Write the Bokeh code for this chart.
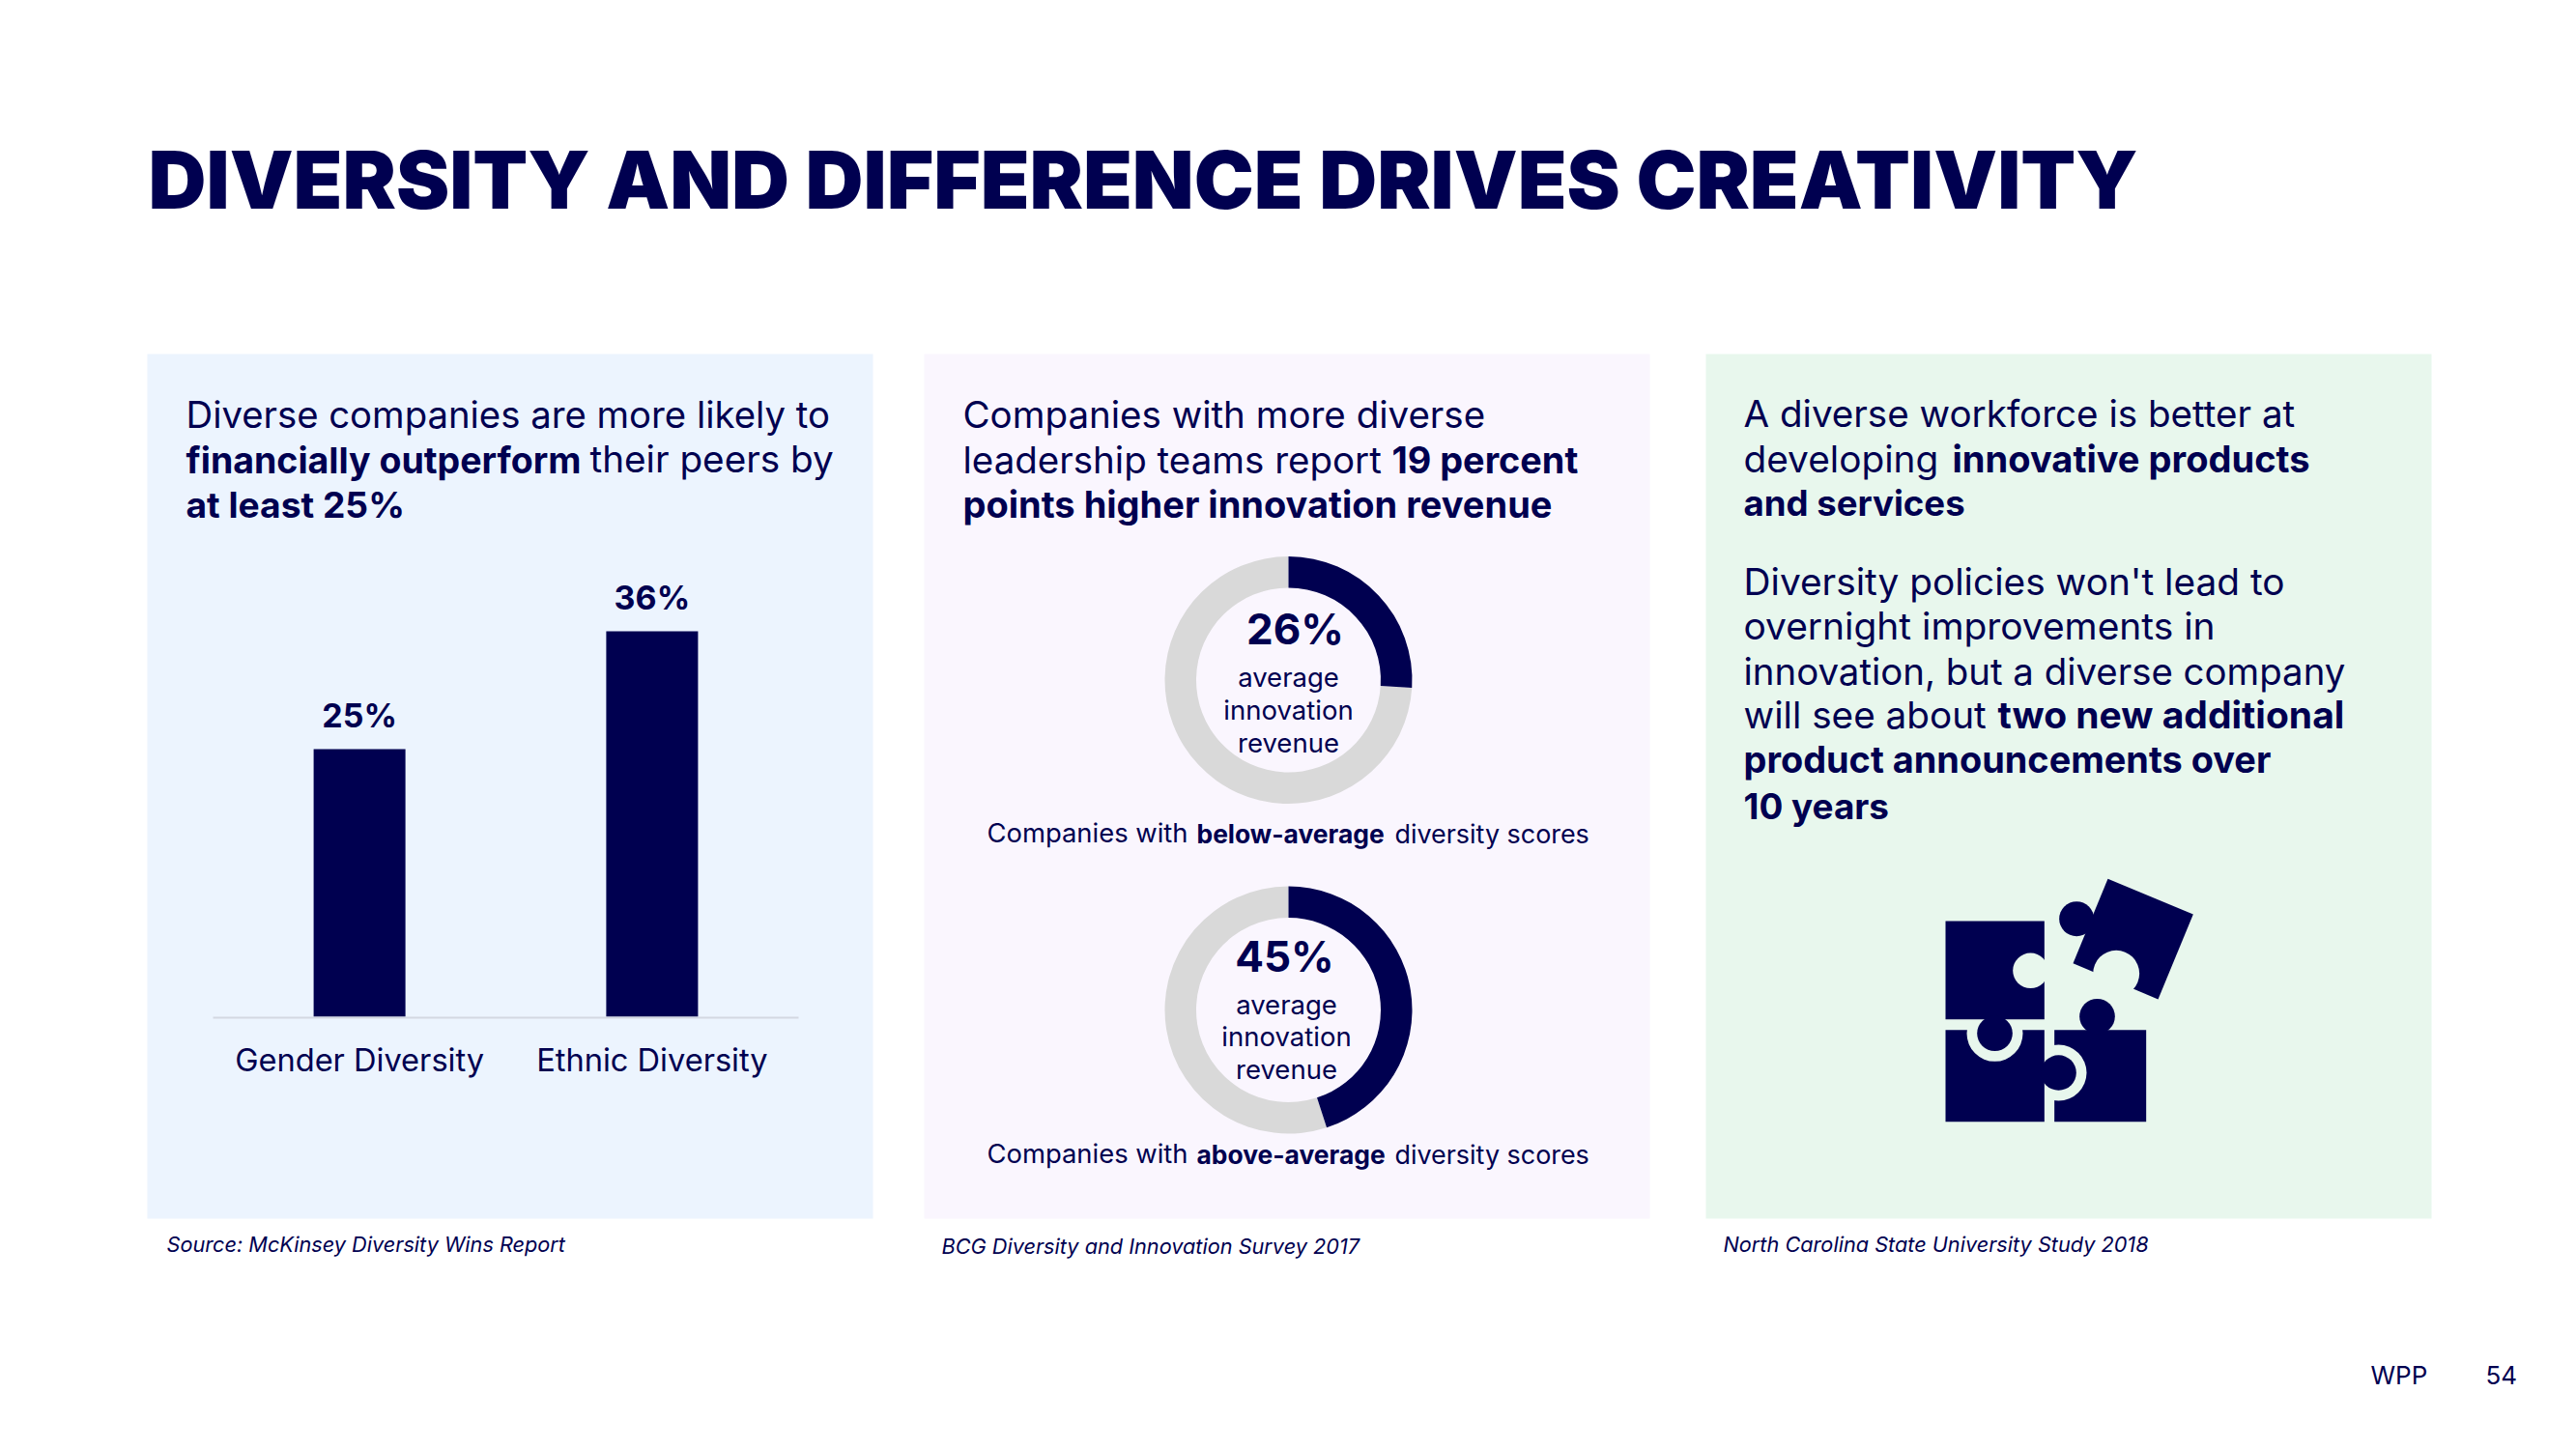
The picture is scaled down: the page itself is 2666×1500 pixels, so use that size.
from math import pi
from bokeh.plotting import figure
from bokeh.models import Range1d
from bokeh.core.properties import value
from bokeh.embed import file_html
from bokeh.resources import INLINE

# ---- chart data ----
title = "DIVERSITY AND DIFFERENCE DRIVES CREATIVITY"
bar_categories = ["Gender Diversity", "Ethnic Diversity"]
bar_values = [25, 36]
donut_values = [26, 45]
donut_captions = ["average", "innovation", "revenue"]

NAVY = "#000050"
GREY = "#D9D9D9"
BG1, BG2, BG3 = "#ECF4FE", "#FAF6FE", "#E8F7ED"
BODY = "Inter"
TITLE_FONT = "Inter Black"

W, H = 2650, 1484
p = figure(width=W, height=H, output_backend="svg", toolbar_location=None,
           x_range=Range1d(0, W), y_range=Range1d(1500 - H, 1500),
           min_border=0, min_border_left=0, min_border_right=0,
           min_border_top=0, min_border_bottom=0,
           x_axis_type=None, y_axis_type=None, outline_line_color=None,
           background_fill_color="white", border_fill_color="white")
p.grid.visible = False

def Y(px):
    return 1500 - px

def box(l, r, t, b, color):
    p.quad(left=[l], right=[r], top=[Y(t)], bottom=[Y(b)], fill_color=color, line_color=None)

box(152, 903, 366, 1261, BG1)
box(956, 1707, 366, 1261, BG2)
box(1765, 2516, 366, 1261, BG3)

def txt(x, y, s, size, bold=False, italic=False, align="left", font=BODY):
    style = "bold italic" if bold and italic else "bold" if bold else "italic" if italic else "normal"
    p.text(x=[x], y=[Y(y)], text=[s], text_font=value(font), text_font_size=f"{size}px",
           text_font_style=style, text_color=NAVY, text_align=align, text_baseline="alphabetic",
           y_offset=-0.37 * size)

txt(153, 216, title, 83, font=TITLE_FONT)

# ---- bar chart, on its own scales ----
PX_PER_PCT = 11.08
PX_PER_CAT = 302.8
BASE = 1052
CX0 = 371.6
p.extra_y_ranges["pct"] = Range1d(-(1500 - BASE) / PX_PER_PCT + (1500 - H) / PX_PER_PCT, BASE / PX_PER_PCT)
p.extra_x_ranges["cat"] = Range1d(-CX0 / PX_PER_CAT, (W - CX0) / PX_PER_CAT)
idx = list(range(len(bar_values)))
p.vbar(x=idx, top=bar_values, bottom=0, width=95 / PX_PER_CAT, fill_color=NAVY, line_color=None,
       x_range_name="cat", y_range_name="pct")
p.segment(x0=[220], x1=[826], y0=[Y(1053)], y1=[Y(1053)], line_color="#D3D8E2", line_width=2)
p.text(x=idx, y=bar_values, text=[f"{v}%" for v in bar_values], x_range_name="cat", y_range_name="pct",
       text_font=value(BODY), text_font_size="34px", text_font_style="bold", text_color=NAVY,
       text_align="center", text_baseline="alphabetic", y_offset=-35)
p.text(x=idx, y=[0, 0], text=bar_categories, x_range_name="cat", y_range_name="pct",
       text_font=value(BODY), text_font_size="32.6px", text_color=NAVY,
       text_align="center", text_baseline="alphabetic", y_offset=44)

# ---- donuts ----
centers = [(1333, 703.5), (1333, 1045)]
for (cx, cy), v in zip(centers, donut_values):
    a = 2 * pi * v / 100
    p.annular_wedge(x=[cx], y=[Y(cy)], inner_radius=95.5, outer_radius=128,
                    start_angle=pi / 2 - a, end_angle=pi / 2 - 2 * pi, direction="clock",
                    fill_color=GREY, line_color=None)
    p.annular_wedge(x=[cx], y=[Y(cy)], inner_radius=95.5, outer_radius=128,
                    start_angle=pi / 2, end_angle=pi / 2 - a, direction="clock",
                    fill_color=NAVY, line_color=None)

txt(1340, 667, f"{donut_values[0]}%", 44, bold=True, align="center")
txt(1329, 1006, f"{donut_values[1]}%", 44, bold=True, align="center")
for s, y in zip(donut_captions, [710.5, 744.5, 778.5]):
    txt(1333, y, s, 27.5, align="center")
for s, y in zip(donut_captions, [1050, 1083, 1117]):
    txt(1331, y, s, 27.5, align="center")

# ---- panel 1 text ----
txt(192, 443, "Diverse companies are more likely to", 38.3)
txt(192, 489.5, "financially outperform", 37.5, bold=True)
txt(610, 489, "their peers by", 38.7)
txt(192, 535.5, "at least 25%", 37.2, bold=True)
txt(172, 1296, "Source: McKinsey Diversity Wins Report", 21.7, italic=True)

# ---- panel 2 text ----
txt(996, 443, "Companies with more diverse", 38.5)
txt(996, 489.5, "leadership teams report", 38.5)
txt(1440, 489.5, "19 percent", 37.8, bold=True)
txt(996, 536, "points higher innovation revenue", 38, bold=True)
for y, w in [(872, "below-average"), (1204, "above-average")]:
    txt(1021, y, "Companies with", 27.4)
    txt(1238, y, w, 26.4, bold=True)
    txt(1443, y, "diversity scores", 26.9)
txt(974, 1298, "BCG Diversity and Innovation Survey 2017", 21.7, italic=True)

# ---- panel 3 text ----
X3 = 1804
txt(X3, 442, "A diverse workforce is better at", 38.6)
txt(X3, 488, "developing", 38.8)
txt(2020, 488.5, "innovative products", 38.1, bold=True)
txt(X3, 534, "and services", 36.6, bold=True)
txt(X3, 615.5, "Diversity policies won't lead to", 38.8)
txt(X3, 661.5, "overnight improvements in", 38.9)
txt(X3, 708.5, "innovation, but a diverse company", 38.4)
txt(X3, 753.5, "will see about", 38.7)
txt(2067, 753.5, "two new additional", 39, bold=True)
txt(X3, 800, "product announcements over", 37.9, bold=True)
txt(X3, 847.5, "10 years", 36.9, bold=True)
txt(1783, 1296, "North Carolina State University Study 2018", 21.7, italic=True)

txt(2453, 1433, "WPP", 26)
txt(2572, 1433, "54", 26)

# ---- puzzle icon ----
def zx(v): return 1950 + v / 3
def zy(v): return 880 + v / 3
def zrect(l, r, t, b, c): box(zx(l), zx(r), zy(t), zy(b), c)
def zcirc(x, y, r, c):
    p.circle(x=[zx(x)], y=[Y(zy(y))], radius=r / 3, fill_color=c, line_color=None)

zrect(527, 812, 557, 842, NAVY)
zcirc(540, 690, 87, BG3)
zrect(189, 496, 557, 842, NAVY)
zcirc(342, 568, 87, BG3)
zrect(189, 496, 219, 524, NAVY)
zcirc(342, 568, 55, NAVY)
zcirc(540, 690, 55, NAVY)
zcirc(660, 515, 55, NAVY)
zcirc(453, 373, 55, BG3)
p.patch(x=[zx(v) for v in (693, 958, 849, 585)], y=[Y(zy(v)) for v in (88, 198, 462, 350)],
        fill_color=NAVY, line_color=None)
zcirc(596, 212, 54, NAVY)
zcirc(719, 382, 72, BG3)

open("out.html", "w").write(file_html(p, INLINE))
